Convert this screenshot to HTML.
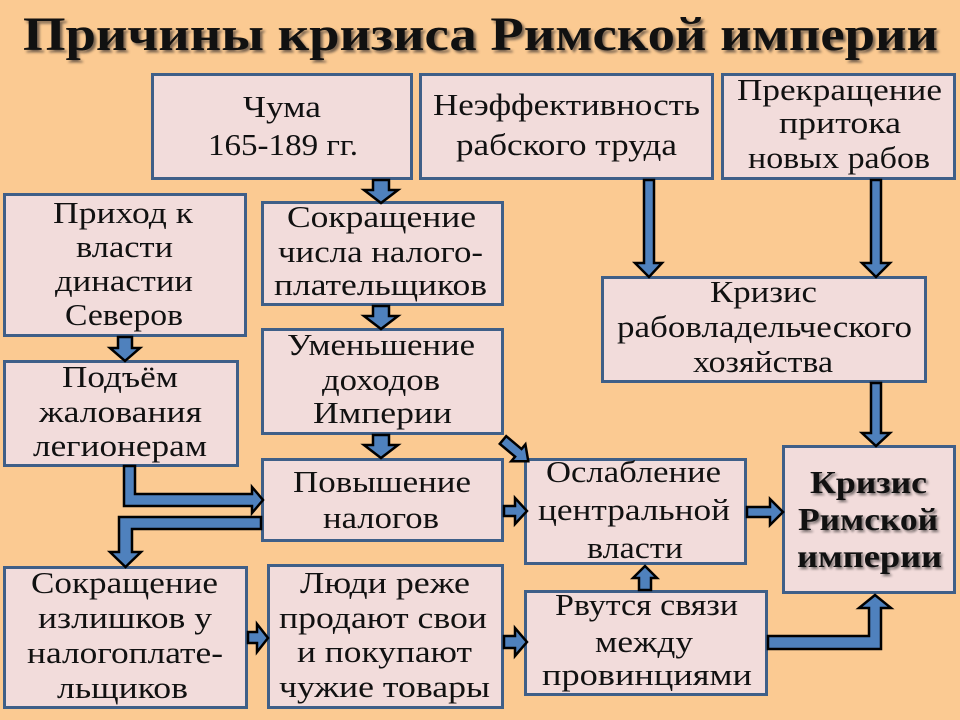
<!DOCTYPE html>
<html><head><meta charset="utf-8"><style>
html,body{margin:0;padding:0;background:#fbca92;}
svg{display:block;}
text{font-family:"Liberation Serif","DejaVu Serif",serif;fill:#111;}
.t{font-size:31px;}
.b{font-size:32px;font-weight:bold;}
.h{font-size:48px;font-weight:bold;}
.box{fill:#f2dcdb;stroke:#3f5f88;stroke-width:3;}
.ar{fill:#4f81bd;stroke:#000;stroke-width:2.5;stroke-linejoin:miter;}
</style></head><body>
<svg width="960" height="720" viewBox="0 0 960 720" xmlns="http://www.w3.org/2000/svg">
<defs>
<filter id="sh" x="-5%" y="-20%" width="110%" height="140%"><feGaussianBlur stdDeviation="1.2"/></filter>
</defs>
<rect width="960" height="720" fill="#fbca92"/>

<!-- Title -->
<text class="h" x="25.5" y="52.5" textLength="915" lengthAdjust="spacingAndGlyphs" style="fill:#5a4c40;opacity:0.8" filter="url(#sh)">Причины кризиса Римской империи</text>
<text class="h" x="23" y="50" textLength="915" lengthAdjust="spacingAndGlyphs">Причины кризиса Римской империи</text>

<!-- Boxes -->
<rect class="box" x="152.5" y="74.5" width="259" height="104"/>
<rect class="box" x="420.5" y="74.5" width="292" height="104"/>
<rect class="box" x="722.5" y="74.5" width="232" height="104"/>
<rect class="box" x="4.5" y="194.5" width="241" height="141"/>
<rect class="box" x="262.5" y="202.5" width="240" height="102"/>
<rect class="box" x="4.5" y="361.5" width="233" height="104"/>
<rect class="box" x="262.5" y="329.5" width="240" height="104"/>
<rect class="box" x="262.5" y="459.5" width="240" height="81"/>
<rect class="box" x="4.5" y="567.5" width="242" height="140"/>
<rect class="box" x="268.5" y="565.5" width="234" height="142"/>
<rect class="box" x="525.5" y="459.5" width="220" height="104"/>
<rect class="box" x="525.5" y="591.5" width="241" height="103"/>
<rect class="box" x="783.5" y="446.5" width="171" height="146"/>
<rect class="box" x="602.5" y="277.5" width="323" height="104"/>

<!-- Arrows: small down -->
<polygon class="ar" points="373,180 389,180 389,190 398,190 381,203 364,190 373,190"/>
<polygon class="ar" points="373,306 389,306 389,316 398,316 381,329 364,316 373,316"/>
<polygon class="ar" points="373,435 389,435 389,445 398,445 381,458 364,445 373,445"/>
<polygon class="ar" points="118,337 132,337 132,348 140,348 125,361 110,348 118,348"/>
<!-- long down -->
<polygon class="ar" points="644,180 654,180 654,263 662,263 649,277 635,263 644,263"/>
<polygon class="ar" points="871,180 881,180 881,263 890,263 876,277 862,263 871,263"/>
<polygon class="ar" points="871,383 881,383 881,433 890,433 876,446 862,433 871,433"/>
<!-- right arrows -->
<polygon class="ar" points="504,506 515,506 515,498 527,511 515,524 515,516 504,516"/>
<polygon class="ar" points="747,507 770,507 770,499 783,512 770,525 770,517 747,517"/>
<polygon class="ar" points="248,632 257,632 257,624 268,638 257,652 257,643 248,643"/>
<polygon class="ar" points="504,636 515,636 515,628 527,642 515,656 515,648 504,648"/>
<!-- up arrow -->
<polygon class="ar" points="639,590 651,590 651,578 657,578 645,566 633,578 639,578"/>
<!-- diagonal -->
<g transform="translate(503,440) rotate(40)">
<polygon class="ar" points="0,-5 20,-5 20,-11 33,0 20,11 20,5 0,5"/>
</g>
<!-- elbow arrows -->
<polygon class="ar" points="124,466 135,466 135,494 252,494 252,487 263,500 252,513 252,506 124,506"/>
<polygon class="ar" points="261,517 119,517 119,552 110,552 125.5,567 141,552 132,552 132,529 261,529"/>
<polygon class="ar" points="768,636 869,636 869,608 859,608 875,595 891,608 881,608 881,649 768,649"/>

<!-- Texts -->
<text class="t" x="243" y="117" textLength="78" lengthAdjust="spacingAndGlyphs">Чума</text>
<text class="t" x="208" y="155" textLength="150" lengthAdjust="spacingAndGlyphs">165-189 гг.</text>

<text class="t" x="433" y="115" textLength="267" lengthAdjust="spacingAndGlyphs">Неэффективность</text>
<text class="t" x="456" y="155" textLength="221" lengthAdjust="spacingAndGlyphs">рабского труда</text>

<text class="t" x="737" y="100" textLength="205" lengthAdjust="spacingAndGlyphs">Прекращение</text>
<text class="t" x="779" y="133" textLength="122" lengthAdjust="spacingAndGlyphs">притока</text>
<text class="t" x="748" y="168" textLength="182" lengthAdjust="spacingAndGlyphs">новых рабов</text>

<text class="t" x="53" y="223" textLength="140" lengthAdjust="spacingAndGlyphs">Приход к</text>
<text class="t" x="76" y="257" textLength="97" lengthAdjust="spacingAndGlyphs">власти</text>
<text class="t" x="55" y="291" textLength="138" lengthAdjust="spacingAndGlyphs">династии</text>
<text class="t" x="65" y="325" textLength="118" lengthAdjust="spacingAndGlyphs">Северов</text>

<text class="t" x="287" y="227" textLength="189" lengthAdjust="spacingAndGlyphs">Сокращение</text>
<text class="t" x="278" y="262" textLength="205" lengthAdjust="spacingAndGlyphs">числа налого-</text>
<text class="t" x="274" y="295" textLength="213" lengthAdjust="spacingAndGlyphs">плательщиков</text>

<text class="t" x="62" y="387" textLength="116" lengthAdjust="spacingAndGlyphs">Подъём</text>
<text class="t" x="39" y="422" textLength="163" lengthAdjust="spacingAndGlyphs">жалования</text>
<text class="t" x="33" y="456" textLength="174" lengthAdjust="spacingAndGlyphs">легионерам</text>

<text class="t" x="287" y="355" textLength="188" lengthAdjust="spacingAndGlyphs">Уменьшение</text>
<text class="t" x="322" y="390" textLength="118" lengthAdjust="spacingAndGlyphs">доходов</text>
<text class="t" x="313" y="423" textLength="139" lengthAdjust="spacingAndGlyphs">Империи</text>

<text class="t" x="293" y="492" textLength="178" lengthAdjust="spacingAndGlyphs">Повышение</text>
<text class="t" x="323" y="528" textLength="116" lengthAdjust="spacingAndGlyphs">налогов</text>

<text class="t" x="31" y="593" textLength="187" lengthAdjust="spacingAndGlyphs">Сокращение</text>
<text class="t" x="38" y="628" textLength="174" lengthAdjust="spacingAndGlyphs">излишков у</text>
<text class="t" x="27" y="663" textLength="196" lengthAdjust="spacingAndGlyphs">налогоплате-</text>
<text class="t" x="57" y="698" textLength="131" lengthAdjust="spacingAndGlyphs">льщиков</text>

<text class="t" x="300" y="593" textLength="170" lengthAdjust="spacingAndGlyphs">Люди реже</text>
<text class="t" x="279" y="628" textLength="208" lengthAdjust="spacingAndGlyphs">продают свои</text>
<text class="t" x="297" y="662" textLength="175" lengthAdjust="spacingAndGlyphs">и покупают</text>
<text class="t" x="279" y="697" textLength="211" lengthAdjust="spacingAndGlyphs">чужие товары</text>

<text class="t" x="546" y="482" textLength="175" lengthAdjust="spacingAndGlyphs">Ослабление</text>
<text class="t" x="538" y="520" textLength="192" lengthAdjust="spacingAndGlyphs">центральной</text>
<text class="t" x="587" y="558" textLength="96" lengthAdjust="spacingAndGlyphs">власти</text>

<text class="t" x="555" y="615" textLength="183" lengthAdjust="spacingAndGlyphs">Рвутся связи</text>
<text class="t" x="595" y="652" textLength="98" lengthAdjust="spacingAndGlyphs">между</text>
<text class="t" x="542" y="685" textLength="210" lengthAdjust="spacingAndGlyphs">провинциями</text>

<text class="t" x="710" y="302" textLength="107" lengthAdjust="spacingAndGlyphs">Кризис</text>
<text class="t" x="617" y="337" textLength="295" lengthAdjust="spacingAndGlyphs">рабовладельческого</text>
<text class="t" x="693" y="372" textLength="140" lengthAdjust="spacingAndGlyphs">хозяйства</text>

<g filter="url(#sh)" style="opacity:0.55">
<text class="b" x="812" y="495" textLength="117" lengthAdjust="spacingAndGlyphs">Кризис</text>
<text class="b" x="800" y="532" textLength="140" lengthAdjust="spacingAndGlyphs">Римской</text>
<text class="b" x="799" y="569" textLength="145" lengthAdjust="spacingAndGlyphs">империи</text>
</g>
<text class="b" x="810" y="493" textLength="117" lengthAdjust="spacingAndGlyphs">Кризис</text>
<text class="b" x="798" y="530" textLength="140" lengthAdjust="spacingAndGlyphs">Римской</text>
<text class="b" x="797" y="567" textLength="145" lengthAdjust="spacingAndGlyphs">империи</text>
</svg>
</body></html>
